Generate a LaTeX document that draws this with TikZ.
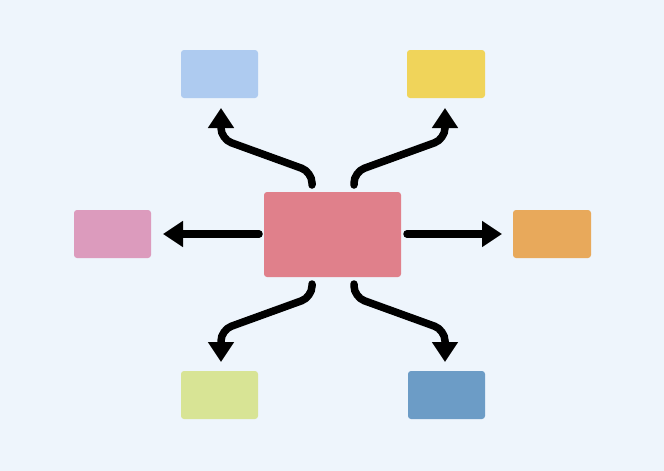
\documentclass[tikz,border=0pt]{standalone}
\usetikzlibrary{arrows.meta}
\definecolor{bg}{HTML}{EEF5FC}
\definecolor{cblue}{HTML}{AECBF0}
\definecolor{cyellow}{HTML}{F0D45A}
\definecolor{cpink}{HTML}{DC9BBD}
\definecolor{corange}{HTML}{E8A95B}
\definecolor{cgreen}{HTML}{D8E495}
\definecolor{cdblue}{HTML}{6C9CC6}
\definecolor{ccenter}{HTML}{E0808B}
\begin{document}
\begin{tikzpicture}[x=1pt,y=-1pt,
  box/.style={rounded corners=3pt,inner sep=0pt,outer sep=0pt,draw=none},
  conn/.style={line width=7.5pt,line cap=round,rounded corners=11pt,
    -{Triangle[length=20pt,width=25pt]}}]
\fill[bg] (0,0) rectangle (664,471);
\useasboundingbox (0,0) rectangle (664,471);
\node[box,fill=ccenter,minimum width=137pt,minimum height=85pt] (c) at (332.5,234.5) {};
\node[box,fill=cblue,minimum width=77pt,minimum height=48pt] (tl) at (219.5,74) {};
\node[box,fill=cyellow,minimum width=78pt,minimum height=48pt] (tr) at (446,74) {};
\node[box,fill=cpink,minimum width=77pt,minimum height=48pt] (l) at (112.5,234) {};
\node[box,fill=corange,minimum width=78pt,minimum height=48pt] (r) at (552,234) {};
\node[box,fill=cgreen,minimum width=77pt,minimum height=48pt] (bl) at (219.5,395) {};
\node[box,fill=cdblue,minimum width=77pt,minimum height=48pt] (br) at (446.5,395) {};
\coordinate (s1) at (312,185);
\coordinate (s2) at (354,185);
\coordinate (s3) at (312,284);
\coordinate (s4) at (354,284);
\draw[conn] (s1) -- (312,172) -- (221,139) -- ([yshift=-10pt]tl.south -| 221,0);
\draw[conn] (s2) -- (354,172) -- (445,139) -- ([yshift=-10pt]tr.south -| 445,0);
\draw[conn] (s3) -- (312,297) -- (221,330) -- ([yshift=9pt]bl.north -| 221,0);
\draw[conn] (s4) -- (354,297) -- (445,330) -- ([yshift=9pt]br.north -| 445,0);
\draw[conn] (259,234) -- ([xshift=12pt]l.east);
\draw[conn] (407,234) -- ([xshift=-11pt]r.west);
\end{tikzpicture}
\end{document}
